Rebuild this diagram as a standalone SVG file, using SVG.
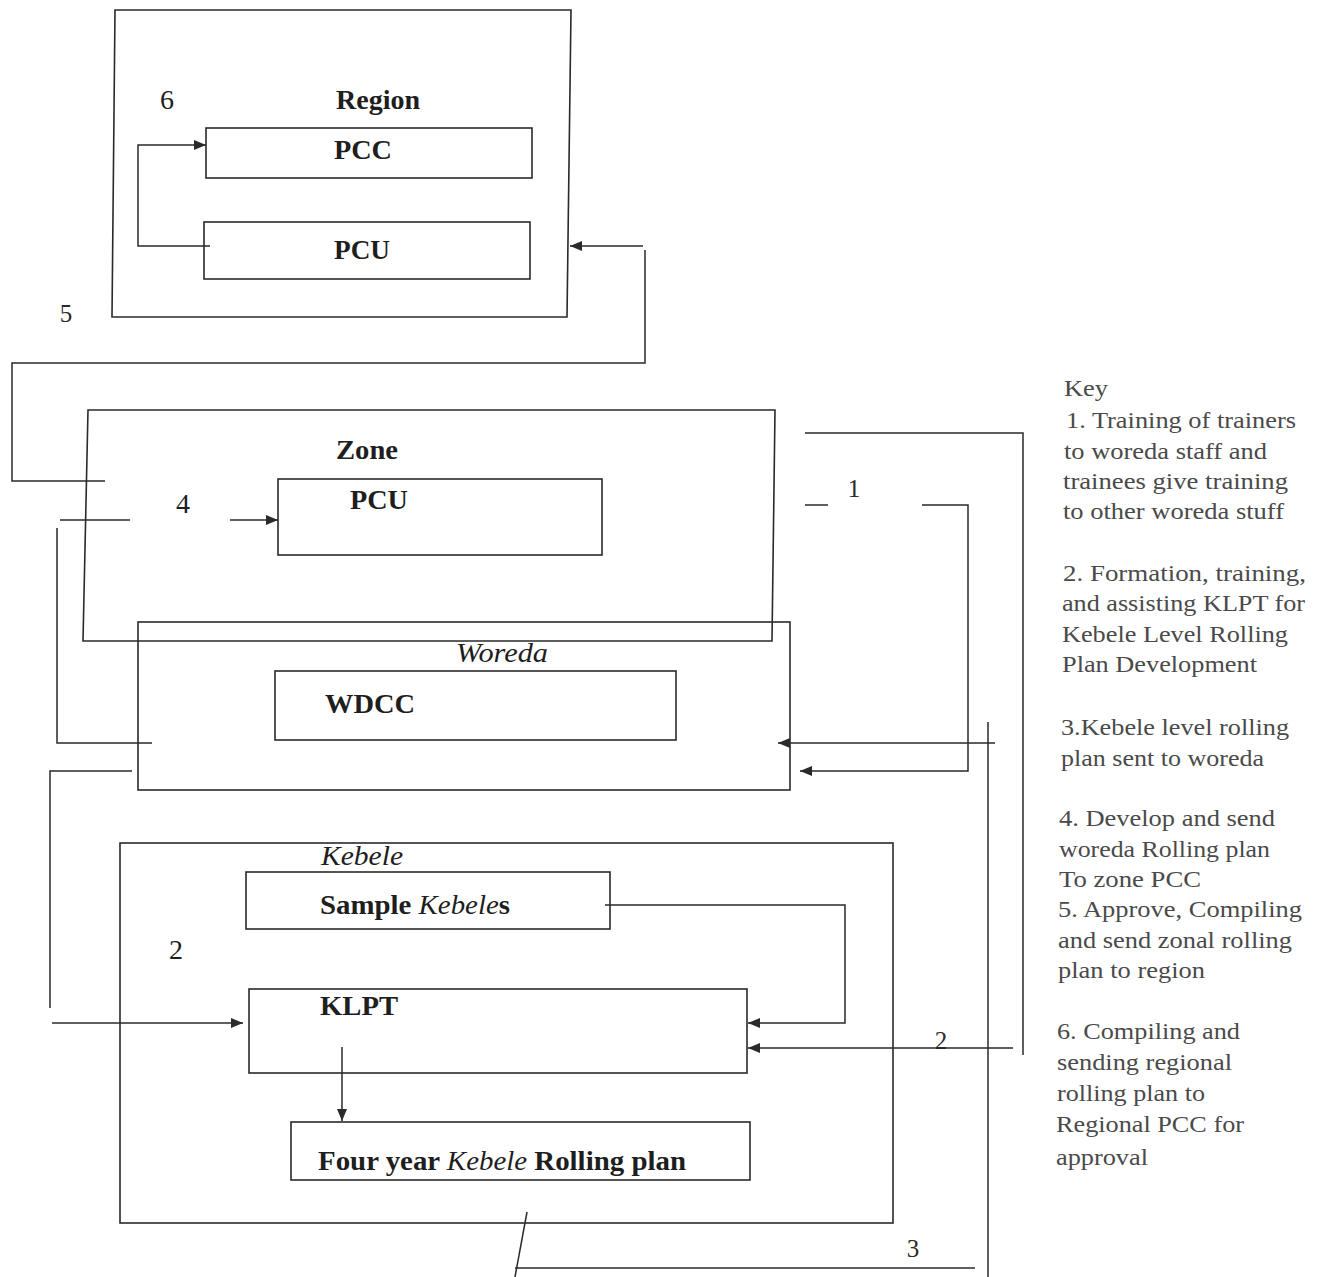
<svg xmlns="http://www.w3.org/2000/svg" width="1324" height="1277" viewBox="0 0 1324 1277">
<style>
.b{fill:none;stroke:#2a2a2a;stroke-width:1.6}
.c{fill:none;stroke:#2a2a2a;stroke-width:1.5}
.t{font-family:"Liberation Serif",serif;font-size:28px;fill:#1e1e1e}
.h{font-family:"Liberation Serif",serif;font-size:25px;fill:#2a2a2a}
.k{font-family:"Liberation Serif",serif;font-size:24px;fill:#4a4a4a}
.i{font-style:italic}
</style>
<defs>
<marker id="a" viewBox="0 0 12 10" refX="12" refY="5" markerWidth="12" markerHeight="10" markerUnits="userSpaceOnUse" orient="auto">
<path d="M0,0 L12,5 L0,10 z" fill="#2a2a2a"/>
</marker>
</defs>
<rect width="1324" height="1277" fill="#fff"/>

<g id="region">
<path class="b" d="M115,10 L571,10 L567,317 L112,317 Z"/>
<text class="t" x="160" y="109" font-size="24">6</text>
<text class="t" x="378" y="109" text-anchor="middle" textLength="84" lengthAdjust="spacingAndGlyphs" font-weight="bold" font-size="27">Region</text>
</g>
<g id="region-pcc">
<rect class="b" x="206" y="128" width="326" height="50"/>
<text class="t" x="363" y="159" text-anchor="middle" textLength="58" lengthAdjust="spacingAndGlyphs" font-weight="bold" font-size="27">PCC</text>
</g>
<g id="region-pcu">
<rect class="b" x="204" y="222" width="326" height="57"/>
<text class="t" x="362" y="259" text-anchor="middle" textLength="56" lengthAdjust="spacingAndGlyphs" font-weight="bold" font-size="27">PCU</text>
</g>

<g id="zone">
<path class="b" d="M88,410 L775,410 L772,641 L83,641 Z"/>
<text class="t" x="367" y="459" text-anchor="middle" textLength="62" lengthAdjust="spacingAndGlyphs" font-weight="bold">Zone</text>
<text class="t" x="176" y="513">4</text>
</g>
<g id="zone-pcu">
<rect class="b" x="278" y="479" width="324" height="76"/>
<text class="t" x="379" y="509" text-anchor="middle" textLength="58" lengthAdjust="spacingAndGlyphs" font-weight="bold">PCU</text>
</g>

<g id="woreda">
<rect class="b" x="138" y="622" width="652" height="168"/>
<text class="t i" x="502" y="662" text-anchor="middle" textLength="92" lengthAdjust="spacingAndGlyphs">Woreda</text>
</g>
<g id="wdcc">
<rect class="b" x="275" y="671" width="401" height="69"/>
<text class="t" x="370" y="713" text-anchor="middle" textLength="90" lengthAdjust="spacingAndGlyphs" font-weight="bold">WDCC</text>
</g>

<g id="kebele">
<rect class="b" x="120" y="843" width="773" height="380"/>
<text class="t i" x="362" y="865" text-anchor="middle" textLength="82" lengthAdjust="spacingAndGlyphs">Kebele</text>
<text class="t" x="169" y="959">2</text>
</g>
<g id="sample-kebeles">
<rect class="b" x="246" y="872" width="364" height="57"/>
<text class="t" x="320" y="914" textLength="190" lengthAdjust="spacingAndGlyphs" font-weight="bold">Sample <tspan class="i" font-weight="normal">Kebele</tspan>s</text>
</g>
<g id="klpt">
<rect class="b" x="249" y="989" width="498" height="84"/>
<text class="t" x="320" y="1015" textLength="78" lengthAdjust="spacingAndGlyphs" font-weight="bold">KLPT</text>
</g>
<g id="rolling-plan">
<rect class="b" x="291" y="1122" width="459" height="58"/>
<text class="t" x="318" y="1170" textLength="368" lengthAdjust="spacingAndGlyphs" font-weight="bold" font-size="30">Four year <tspan class="i" font-weight="normal">Kebele</tspan> Rolling plan</text>
</g>

<g id="connectors">
<path class="c" d="M210,246 L138,246 L138,145 L206,145" marker-end="url(#a)"/>
<path class="c" d="M643,246 L570,246" marker-end="url(#a)"/>
<path class="c" d="M645,250 L645,363 L12,363 L12,481 L105,481"/>
<path class="c" d="M152,743 L57,743 L57,528"/>
<path class="c" d="M60,520 L130,520"/>
<path class="c" d="M230,520 L278,520" marker-end="url(#a)"/>
<path class="c" d="M132,771 L50,771 L50,1008"/>
<path class="c" d="M52,1023 L243,1023" marker-end="url(#a)"/>
<path class="c" d="M805,433 L1023,433 L1023,1055"/>
<path class="c" d="M1013,1048 L748,1048" marker-end="url(#a)"/>
<text class="h" x="941" y="1049" text-anchor="middle">2</text>
<path class="c" d="M805,505 L828,505"/>
<text class="h" x="854" y="497" text-anchor="middle">1</text>
<path class="c" d="M922,505 L968,505 L968,771 L800,771" marker-end="url(#a)"/>
<path class="c" d="M605,905 L845,905 L845,1023 L748,1023" marker-end="url(#a)"/>
<path class="c" d="M342,1047 L342,1121" marker-end="url(#a)"/>
<path class="c" d="M527,1212 L515,1277"/>
<path class="c" d="M515,1268 L975,1268"/>
<text class="h" x="913" y="1257" text-anchor="middle">3</text>
<path class="c" d="M988,1277 L988,722"/>
<path class="c" d="M995,743 L778,743" marker-end="url(#a)"/>
<text class="h" x="66" y="322" text-anchor="middle">5</text>
</g>

<g id="key" class="k">
<text x="1064" y="396" textLength="44" lengthAdjust="spacingAndGlyphs">Key</text>
<text x="1066" y="428" textLength="230" lengthAdjust="spacingAndGlyphs">1. Training of trainers</text>
<text x="1064" y="459" textLength="203" lengthAdjust="spacingAndGlyphs">to woreda staff and</text>
<text x="1063" y="489" textLength="225" lengthAdjust="spacingAndGlyphs">trainees give training</text>
<text x="1063" y="519" textLength="221" lengthAdjust="spacingAndGlyphs">to other woreda stuff</text>
<text x="1063" y="581" textLength="243" lengthAdjust="spacingAndGlyphs">2. Formation, training,</text>
<text x="1062" y="611" textLength="243" lengthAdjust="spacingAndGlyphs">and assisting KLPT for</text>
<text x="1062" y="642" textLength="226" lengthAdjust="spacingAndGlyphs">Kebele Level Rolling</text>
<text x="1062" y="672" textLength="195" lengthAdjust="spacingAndGlyphs">Plan Development</text>
<text x="1061" y="735" textLength="228" lengthAdjust="spacingAndGlyphs">3.Kebele level rolling</text>
<text x="1061" y="766" textLength="203" lengthAdjust="spacingAndGlyphs">plan sent to woreda</text>
<text x="1059" y="826" textLength="216" lengthAdjust="spacingAndGlyphs">4. Develop and send</text>
<text x="1059" y="857" textLength="211" lengthAdjust="spacingAndGlyphs">woreda Rolling plan</text>
<text x="1059" y="887" textLength="142" lengthAdjust="spacingAndGlyphs">To zone PCC</text>
<text x="1058" y="917" textLength="244" lengthAdjust="spacingAndGlyphs">5. Approve, Compiling</text>
<text x="1058" y="948" textLength="234" lengthAdjust="spacingAndGlyphs">and send zonal rolling</text>
<text x="1058" y="978" textLength="147" lengthAdjust="spacingAndGlyphs">plan to region</text>
<text x="1057" y="1039" textLength="183" lengthAdjust="spacingAndGlyphs">6. Compiling and</text>
<text x="1057" y="1070" textLength="175" lengthAdjust="spacingAndGlyphs">sending regional</text>
<text x="1057" y="1101" textLength="148" lengthAdjust="spacingAndGlyphs">rolling plan to</text>
<text x="1056" y="1132" textLength="188" lengthAdjust="spacingAndGlyphs">Regional PCC for</text>
<text x="1056" y="1165" textLength="92" lengthAdjust="spacingAndGlyphs">approval</text>
</g>
</svg>
